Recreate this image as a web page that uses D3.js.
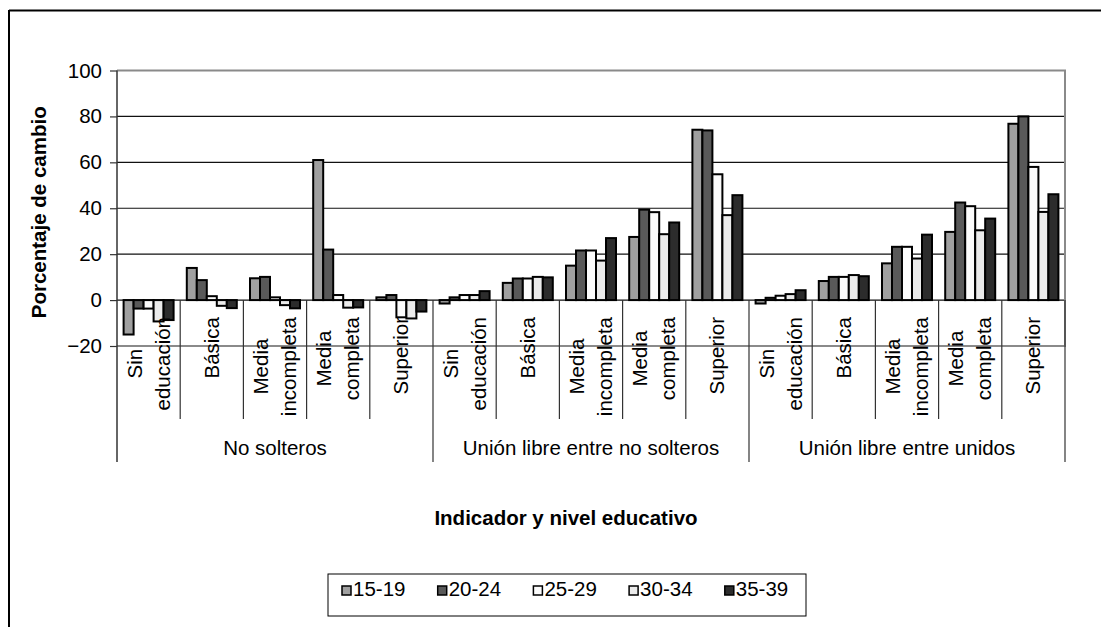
<!DOCTYPE html>
<html>
<head>
<meta charset="utf-8">
<script src="https://cdn.jsdelivr.net/npm/d3@7"></script>
<style>
  html, body { margin: 0; padding: 0; background: #fff; }
  svg text { font-family: "Liberation Sans", Arial, sans-serif; fill: #000; }
</style>
</head>
<body>
<svg id="chart" width="1101" height="627"></svg>
<script>
// ---- data ----
const groups = ["No solteros", "Unión libre entre no solteros", "Unión libre entre unidos"];
const levels = ["Sin educación", "Básica", "Media incompleta", "Media completa", "Superior"];
const levelLines = [["Sin", "educación"], ["Básica"], ["Media", "incompleta"], ["Media", "completa"], ["Superior"]];
const seriesNames = ["15-19", "20-24", "25-29", "30-34", "35-39"];
const s1519 = [-15, 14, 9.5, 61, 1.2, -1.5, 7.5, 15, 27.5, 74.2, -1.5, 8.3, 16, 29.7, 76.8];
const s2024 = [-3.7, 8.7, 10.1, 22, 2.2, 1.2, 9.4, 21.6, 39.4, 73.9, 1.0, 10.1, 23.2, 42.5, 80];
const s2529 = [-3.7, 1.7, 1.2, 2.2, -7.5, 2.2, 9.4, 21.6, 38.3, 54.8, 1.9, 10.1, 23.2, 40.9, 58];
const s3034 = [-9.3, -2.5, -2.2, -3.3, -8, 2.2, 10.1, 17.2, 28.7, 37, 2.6, 10.9, 18.1, 30.4, 38.4];
const s3539 = [-8.7, -3.5, -3.6, -3.2, -5, 3.9, 9.9, 27, 33.8, 45.7, 4.3, 10.4, 28.5, 35.5, 46.1];
const yTicks = [-20, 0, 20, 40, 60, 80, 100];
const colors = ["#a0a0a0", "#595959", "#fbfbfb", "#ebebeb", "#2c2c2c"];
const yTitle = "Porcentaje de cambio";
const xTitle = "Indicador y nivel educativo";

const allSeries = [s1519, s2024, s2529, s3034, s3539];
const cats = [];
groups.forEach((g, gi) => levels.forEach((l, li) => cats.push({ key: gi + "|" + li, g: gi, l: li })));

// ---- layout ----
const FS = 20.5;
const svg = d3.select("#chart");
const L = 117, R = 1065, T = 70.5, B = 346;

const x = d3.scaleBand().domain(cats.map(c => c.key)).range([L, R]).padding(0);
const xs = d3.scaleBand().domain(seriesNames).range([0, x.bandwidth()]).paddingInner(0).paddingOuter(0.66);
const y = d3.scaleLinear().domain([-20, 100]).range([B, T]);

// outer frame (top & left)
svg.append("line").attr("x1", 9).attr("x2", 1101).attr("y1", 10.5).attr("y2", 10.5).attr("stroke", "#000").attr("stroke-width", 2);
svg.append("line").attr("x1", 9).attr("x2", 9).attr("y1", 10).attr("y2", 627).attr("stroke", "#000").attr("stroke-width", 2);

// gridlines
svg.append("g").selectAll("line").data(yTicks.filter(t => t > -20 && t < 100)).join("line")
  .attr("x1", L).attr("x2", R).attr("y1", d => y(d)).attr("y2", d => y(d))
  .attr("stroke", "#111").attr("stroke-width", 1.1);

// plot border (gray)
svg.append("path").attr("d", `M${L},${T}H${R}V${B}H${L}`).attr("fill", "none").attr("stroke", "#8a8a8a").attr("stroke-width", 2);

// bars
allSeries.forEach((vals, si) => {
  svg.append("g").selectAll("rect").data(vals).join("rect")
    .attr("x", (d, i) => x(cats[i].key) + xs(seriesNames[si]))
    .attr("width", xs.bandwidth())
    .attr("y", d => y(Math.max(0, d)))
    .attr("height", d => Math.abs(y(d) - y(0)))
    .attr("fill", colors[si]).attr("stroke", "#000").attr("stroke-width", 2);
});

// y axis
const yAxis = d3.axisLeft(y).tickValues(yTicks).tickSize(7).tickPadding(8).tickFormat(d3.format("d"));
const ya = svg.append("g").attr("transform", `translate(${L},0)`).call(yAxis);
ya.select(".domain").remove();
ya.selectAll(".tick line").attr("stroke", "#333").attr("stroke-width", 1.2);
ya.selectAll(".tick text").attr("font-size", FS).attr("font-family", "Liberation Sans, Arial, sans-serif").attr("fill", "#000");
svg.append("line").attr("x1", L).attr("x2", L).attr("y1", T).attr("y2", 462).attr("stroke", "#333").attr("stroke-width", 1.5);

// category separators
const zeroY = y(0);
cats.forEach((c, i) => {
  if (i === 0) return;
  const xx = x(c.key);
  const outer = c.l === 0;
  svg.append("line").attr("x1", xx).attr("x2", xx).attr("y1", zeroY).attr("y2", outer ? 462 : 419)
    .attr("stroke", "#333").attr("stroke-width", 1.2);
});
svg.append("line").attr("x1", R).attr("x2", R).attr("y1", zeroY).attr("y2", 462).attr("stroke", "#333").attr("stroke-width", 1.2);

// category labels (rotated)
const lineGap = 28;
cats.forEach((c, i) => {
  const lines = levelLines[c.l];
  const cx = x(c.key) + x.bandwidth() / 2;
  const g = svg.append("g");
  const texts = lines.map((t, k) => g.append("text").text(t).attr("font-size", FS).attr("text-anchor", "middle"));
  const maxLen = d3.max(texts, t => t.node().getComputedTextLength());
  const cy = 317 + maxLen / 2;
  texts.forEach((t, k) => {
    const off = (k - (lines.length - 1) / 2) * lineGap;
    const bx = cx + off + 7;
    t.attr("transform", `translate(${bx},${cy}) rotate(-90)`);
  });
});

// group labels
groups.forEach((gname, gi) => {
  const x0 = x(gi + "|0"), x1 = x(gi + "|4") + x.bandwidth();
  svg.append("text").text(gname).attr("x", (x0 + x1) / 2).attr("y", 455)
    .attr("font-size", FS).attr("text-anchor", "middle");
});

// axis titles
svg.append("text").text(yTitle).attr("font-size", FS).attr("font-weight", "bold").attr("text-anchor", "middle")
  .attr("transform", `translate(46,${(T + B) / 2 + 4}) rotate(-90)`);
svg.append("text").text(xTitle).attr("font-size", FS).attr("font-weight", "bold").attr("text-anchor", "middle")
  .attr("x", 566).attr("y", 525);

// legend
svg.append("rect").attr("x", 328).attr("y", 574).attr("width", 478).attr("height", 42)
  .attr("fill", "#fff").attr("stroke", "#000").attr("stroke-width", 1);
const lg = svg.append("g").selectAll("g").data(seriesNames).join("g")
  .attr("transform", (d, i) => `translate(${342 + i * 95.7},0)`);
lg.append("rect").attr("x", 0).attr("y", 586).attr("width", 9).attr("height", 9)
  .attr("fill", (d, i) => colors[i]).attr("stroke", "#000").attr("stroke-width", 1.5);
lg.append("text").text(d => d).attr("x", 11).attr("y", 596).attr("font-size", FS);
</script>
</body>
</html>
